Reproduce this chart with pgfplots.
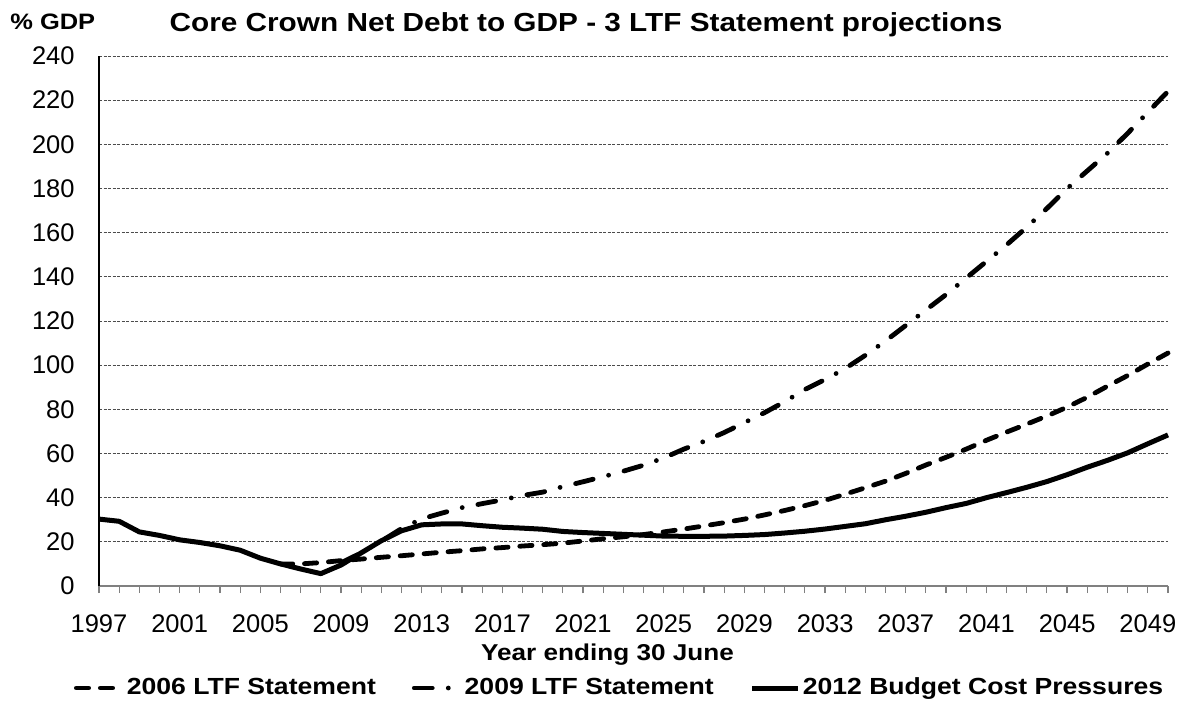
\documentclass[border=0pt]{standalone}
\usepackage{fontspec}
\setmainfont{Liberation Sans}[BoldFeatures={FakeStretch=1.14}]
\usepackage{pgfplots}
\pgfplotsset{compat=1.18}
\usepackage{pgfplotstable}

\pgfplotstableread{
year val
2006 10.0
2007 10.0
2008 10.6
2009 11.5
2010 12.2
2011 13.0
2012 13.7
2013 14.5
2014 15.3
2015 16.0
2016 16.8
2017 17.4
2018 18.1
2019 18.7
2020 19.4
2021 20.4
2022 21.4
2023 22.3
2024 23.3
2025 24.5
2026 25.8
2027 27.2
2028 28.7
2029 30.3
2030 32.2
2031 34.2
2032 36.4
2033 38.8
2034 41.6
2035 44.5
2036 47.5
2037 51.0
2038 54.8
2039 58.3
2040 62.0
2041 66.0
2042 69.7
2043 73.3
2044 77.0
2045 81.0
2046 85.5
2047 90.5
2048 95.3
2049 100.5
2050 105.5
}\ltfsix

\pgfplotstableread{
year val
2009 10.5
2010 15.0
2011 20.3
2012 26.0
2013 30.4
2014 33.0
2015 35.5
2016 37.3
2017 39.0
2018 41.0
2019 42.5
2020 45.0
2021 47.2
2022 49.5
2023 52.0
2024 54.7
2025 58.0
2026 62.0
2027 65.5
2028 69.5
2029 74.0
2030 78.5
2031 83.5
2032 89.0
2033 93.5
2034 98.5
2035 104.5
2036 111.0
2037 118.0
2038 125.0
2039 132.0
2040 139.5
2041 147.0
2042 154.5
2043 162.5
2044 171.0
2045 180.0
2046 188.0
2047 196.0
2048 205.0
2049 214.5
2050 224.0
}\ltfnine

\pgfplotstableread{
year val
1997 30.3
1998 29.3
1999 24.5
2000 22.9
2001 20.9
2002 19.7
2003 18.2
2004 16.2
2005 12.6
2006 10.0
2007 7.7
2008 5.6
2009 9.5
2010 15.0
2011 20.5
2012 25.0
2013 27.7
2014 28.1
2015 28.1
2016 27.3
2017 26.6
2018 26.2
2019 25.7
2020 24.7
2021 24.2
2022 23.8
2023 23.4
2024 23.0
2025 22.6
2026 22.5
2027 22.5
2028 22.6
2029 22.9
2030 23.3
2031 24.0
2032 24.8
2033 25.8
2034 27.0
2035 28.2
2036 30.0
2037 31.6
2038 33.4
2039 35.5
2040 37.4
2041 40.0
2042 42.3
2043 44.7
2044 47.3
2045 50.4
2046 53.8
2047 56.9
2048 60.3
2049 64.4
2050 68.4
}\budget

\begin{document}
\begin{tikzpicture}
\path[use as bounding box] (0,0) rectangle (589.5bp,352.5bp);
\begin{axis}[
  at={(49.5bp,59.5bp)}, anchor=south west,
  scale only axis, width=534.5bp, height=265bp,
  xmin=1997, xmax=2050, ymin=0, ymax=240,
  clip=false,
  axis x line*=bottom, axis y line*=left,
  x axis line style={draw=gray, line width=0.75bp},
  y axis line style={draw=black, line width=0.6bp},
  xtick={1997,2001,...,2049},
  minor xtick={1998,...,2050},
  ytick={0,20,...,240},
  tick align=outside,
  x tick style={draw=gray, line width=0.6bp},
  major x tick style={draw=gray},
  minor x tick style={draw=gray, line width=0.6bp},
  major tick length=3.5bp, minor tick length=3.5bp,
  y tick style={draw=none},
  ymajorgrids,
  major grid style={draw=black!70, line width=0.45bp, dash pattern=on 1.5bp off 0.75bp},
  /pgf/number format/assume math mode=true,
  /pgf/number format/1000 sep={},
  tick label style={font=\fontsize{12.8}{14}\selectfont},
  y tick label style={xshift=-5.2bp},
  x tick label style={yshift=-7.5bp},
  legend style={at={(axis description cs:0.487,-0.1925)}, anchor=center,
    draw=none, fill=none, legend columns=3,
    font=\bfseries\fontsize{11.7}{13}\selectfont,
    nodes={inner sep=1bp},
    /tikz/every even column/.append style={column sep=17bp}},
  legend image code/.code={\draw[#1] (0bp,0bp) -- (23bp,0bp);},
]
\addplot[black, line width=2.4bp, line cap=round, dash pattern=on 6.1bp off 5.9bp] table[x=year,y=val] {\ltfsix};
\addlegendentry{2006 LTF Statement}
\addplot[black, line width=2.4bp, line cap=round, dash pattern=on 9bp off 8bp on 0bp off 8bp] table[x=year,y=val] {\ltfnine};
\addlegendentry{2009 LTF Statement}
\addplot[black, line width=2.5bp, line join=round] table[x=year,y=val] {\budget};
\addlegendentry{2012 Budget Cost Pressures}
\end{axis}
\node[anchor=base, font=\bfseries\fontsize{13.1}{15}\selectfont] at (293bp,336.5bp) {Core Crown Net Debt to GDP - 3 LTF Statement projections};
\node[anchor=base west, inner sep=0pt, font=\bfseries\fontsize{11.2}{13}\selectfont] at (5bp,337.5bp) {\% GDP};
\node[anchor=base, font=\bfseries\fontsize{11.5}{13}\selectfont] at (303.75bp,22.5bp) {Year ending 30 June};
\end{tikzpicture}
\end{document}
